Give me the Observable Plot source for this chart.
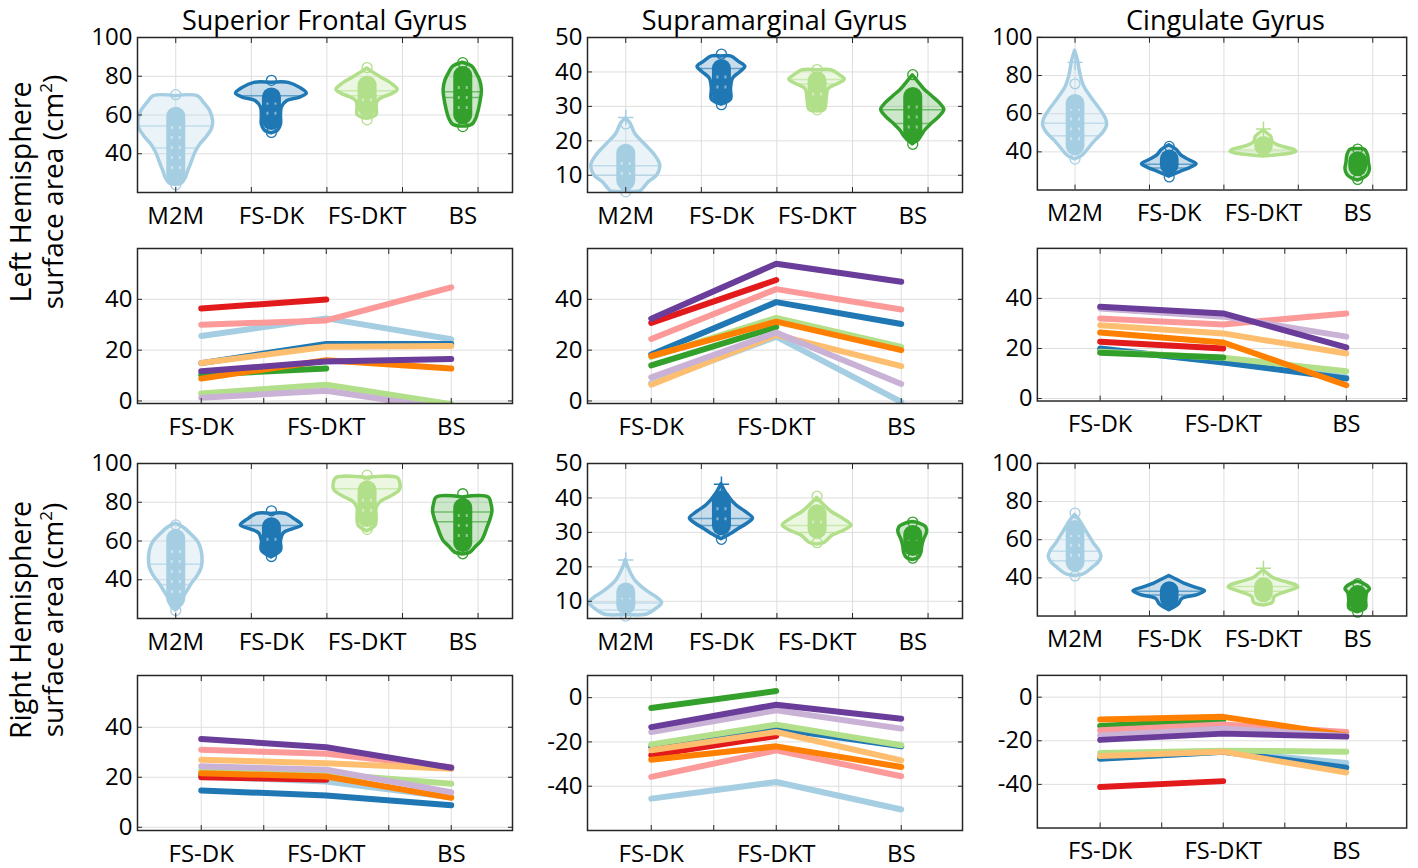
<!DOCTYPE html>
<html><head><meta charset="utf-8">
<script src="https://cdn.jsdelivr.net/npm/d3@7"></script>
<script src="https://cdn.jsdelivr.net/npm/@observablehq/plot@0.6"></script>
<style>
body{margin:0;background:#fff;}
#chart{position:relative;width:1418px;height:868px;overflow:hidden;font-family:"Open Sans",sans-serif;}
.panel{position:absolute;}
.panel svg{overflow:visible;}
</style></head><body><div id="chart"></div>
<script>
// ---------- categories / labels ----------
const regions = ["Superior Frontal Gyrus", "Supramarginal Gyrus", "Cingulate Gyrus"];
const hemispheres = ["Left Hemisphere", "Right Hemisphere"];
const violinCats = ["M2M", "FS-DK", "FS-DKT", "BS"];
const lineCats = ["FS-DK", "FS-DKT", "BS"];
const violinColors = ["#a6cee3", "#1f78b4", "#b2df8a", "#33a02c"];
const subjectColors = ["#a6cee3", "#1f78b4", "#b2df8a", "#33a02c", "#fb9a99", "#e31a1c", "#fdbf6f", "#ff7f00", "#cab2d6", "#6a3d9a"];

// tick values
const violinTicksBig = [40, 60, 80, 100];
const violinTicksSmall = [10, 20, 30, 40, 50];
const lineTicksPos = [0, 20, 40];
const lineTicksNeg = [-40, -20, 0];
const violinGrid = [1, 1.79, 2.58, 3.37, 4.16];
const lineGrid = [1, 1.5, 2, 2.5, 3];

// ---------- violin data: shape profile [value, half width], quartile lines, data range, end circles, "+" outliers ----------
const sfgLeftShape = [
  [[69.7,0],[69.7,0.23],[66,0.3],[62,0.36],[57,0.39],[53,0.38],[49,0.33],[45,0.26],[41,0.21],[36,0.17],[31,0.13],[27,0.1],[24.5,0.06],[24,0]],
  [[76.6,0],[76.6,0.18],[74,0.3],[71,0.37],[69,0.3],[67,0.16],[64,0.11],[60,0.1],[55,0.1],[52,0.07],[50.5,0]],
  [[84,0],[82,0.06],[79,0.16],[76,0.26],[73,0.32],[71,0.27],[69,0.17],[67,0.11],[64,0.1],[60,0.1],[58,0]],
  [[87,0],[85,0.1],[82,0.14],[78,0.18],[73,0.2],[68,0.19],[63,0.17],[58,0.14],[55,0.1],[54,0]]
];
const sfgLeftQuart = [[54.3, 43], [69.9], [72.5, 70], [72, 69]];
const sfgLeftRange = [[24, 64], [52, 74], [59, 80], [55, 85]];
const sfgLeftEnds = [[70.5, 24], [77.9, 51], [84.5, 57.5], [87, 54]];
const sfgLeftPlus = [[], [], [], []];

const smgLeftShape = [
  [[26.5,0],[25,0.05],[22,0.1],[19,0.2],[16,0.3],[13,0.36],[10,0.33],[8,0.24],[6,0.18],[5.3,0.15],[5.3,0]],
  [[44.5,0],[44.5,0.1],[43,0.18],[41.5,0.25],[40,0.2],[38,0.12],[35,0.1],[32,0.1],[30.5,0]],
  [[40.5,0],[40.5,0.15],[39,0.24],[37.8,0.29],[36.5,0.22],[35,0.12],[32,0.1],[29,0.08],[28.5,0]],
  [[39,0],[37,0.06],[35,0.12],[33,0.2],[31,0.28],[29,0.33],[27,0.28],[25,0.2],[23,0.13],[21,0.08],[19,0]]
];
const smgLeftQuart = [[12.8, 10], [41], [37.8, 36.5], [29, 25]];
const smgLeftRange = [[5.5, 19], [30.6, 43.6], [28.6, 40], [19, 35.5]];
const smgLeftEnds = [[24.9, 5.2], [45.2, 30.5], [40.7, 29], [39.2, 19]];
const smgLeftPlus = [[26.8], [], [], []];

const cingLeftShape = [
  [[93,0],[88,0.03],[80,0.06],[74,0.1],[68,0.18],[62,0.27],[57,0.33],[54,0.34],[50,0.3],[46,0.22],[42,0.15],[38,0.08],[36,0]],
  [[43.5,0],[41,0.08],[38,0.13],[35.5,0.22],[33.5,0.29],[31.5,0.22],[29.5,0.12],[27,0]],
  [[51,0],[48,0.08],[45,0.1],[43,0.18],[41,0.33],[40,0.35],[39,0.28],[38,0.1],[37.5,0]],
  [[41.5,0],[41,0.08],[38,0.11],[34,0.12],[31,0.13],[28,0.11],[26,0.06],[25,0]]
];
const cingLeftQuart = [[55, 48.5], [33.5, 31.5], [41], []];
const cingLeftRange = [[38, 70], [28, 41], [38, 48], [27, 40]];
const cingLeftEnds = [[75.7, 36.2], [42.9, 26.8], [], [41.5, 25.5]];
const cingLeftPlus = [[86.9], [], [52], []];

const sfgRightShape = [
  [[69,0],[67,0.08],[63,0.17],[59,0.24],[55,0.27],[50,0.28],[46,0.27],[42,0.23],[38,0.17],[34,0.12],[30,0.07],[26,0.04],[24,0]],
  [[74,0],[74,0.15],[71,0.25],[68,0.32],[66,0.22],[64,0.13],[60,0.1],[55,0.1],[51.5,0]],
  [[92.5,0],[92.5,0.32],[89,0.35],[86,0.34],[83,0.25],[80,0.14],[77,0.1],[72,0.1],[68,0.09],[65,0]],
  [[82.5,0],[82.5,0.27],[79,0.3],[75,0.31],[71,0.29],[67,0.26],[63,0.23],[60,0.2],[57,0.14],[54,0.08],[53,0]]
];
const sfgRightQuart = [[48, 37.5], [68], [87], [75, 70]];
const sfgRightRange = [[25, 66], [52, 72], [67, 91], [54, 82]];
const sfgRightEnds = [[68.3, 24.1], [75.6, 52], [94, 66], [84.4, 53.4]];
const sfgRightPlus = [[], [], [], []];

const smgRightShape = [
  [[22,0],[19,0.04],[16,0.1],[13,0.22],[11,0.33],[9.5,0.38],[8,0.33],[6.5,0.25],[6,0.2],[6,0]],
  [[44,0],[41,0.06],[38,0.15],[36,0.25],[34,0.33],[32.5,0.27],[31,0.18],[29.5,0.1],[28,0]],
  [[40,0],[38,0.07],[36,0.15],[34,0.27],[32,0.36],[30.5,0.28],[29,0.16],[27,0.08],[26.5,0]],
  [[33,0],[32.5,0.08],[31.5,0.14],[30,0.15],[28,0.12],[26,0.1],[24,0.09],[22.5,0.06],[22,0]]
];
const smgRightQuart = [[9.5, 7.5], [34, 32], [32, 30], []];
const smgRightRange = [[6, 15.3], [29, 42], [28, 38], [23, 32]];
const smgRightEnds = [[5.7], [28], [40.5, 27], [33, 22.5]];
const smgRightPlus = [[22], [44], [], []];

const cingRightShape = [
  [[73,0],[70,0.05],[66,0.1],[62,0.15],[58,0.2],[54,0.26],[51,0.28],[48,0.25],[45,0.18],[42,0.1],[41,0]],
  [[41,0],[39,0.08],[37,0.16],[35,0.27],[33,0.38],[31,0.3],[29,0.14],[26,0.1],[23,0]],
  [[44,0],[42,0.05],[40,0.1],[38,0.22],[36,0.35],[35,0.37],[33,0.27],[30,0.12],[27,0.1],[25.5,0]],
  [[38,0],[37,0.06],[35,0.12],[34,0.13],[32,0.1],[28,0.09],[24,0.09],[22,0]]
];
const cingRightQuart = [[54, 49], [33, 31], [35.5, 33], []];
const cingRightRange = [[43, 70], [24, 38], [27, 40], [22.5, 36]];
const cingRightEnds = [[74, 41], [], [], [37, 22]];
const cingRightPlus = [[], [], [45], []];

// ---------- line data: one row per subject (Paired colour order), values at FS-DK, FS-DKT, BS ----------
const sfgLeftLines = [
  [25.6, 32.5, 24.3], [14.9, 22.4, 22.4], [2.9, 6.4, -1.3], [10.3, 12.8, null], [30, 31.7, 44.7],
  [36.4, 39.9, null], [14.9, 21.3, 21.6], [8.8, 16, 12.8], [1.3, 4, -3.3], [11.7, 15.5, 16.5]
];
const smgLeftLines = [
  [7, 25.3, -0.4], [18.3, 38.9, 30.3], [17.3, 32.7, 21.3], [14, 29.1, null], [24.4, 44, 36],
  [30.7, 47.6, null], [6.4, 26, 13.7], [17.7, 31.2, 20], [9.3, 26.9, 6.7], [32.4, 54, 46.9]
];
const cingLeftLines = [
  [19.5, 14.8, 8.5], [20, 14.4, 8], [18.7, 16.3, 10.9], [18.3, 16.4, null], [32, 29.6, 34],
  [22.7, 20, null], [29.3, 26, 18], [26.4, 22.4, 5.3], [36, 32.7, 24.7], [36.7, 34, 20.4]
];
const sfgRightLines = [
  [20.3, 18.3, 12], [14.7, 12.7, 8.8], [22.7, 21.4, 17.4], [21, 20, null], [31, 29.4, 24],
  [20, 19, null], [27, 25.6, 23.4], [21.6, 20.3, 11.8], [24.4, 23, 14], [35.3, 32, 23.8]
];
const smgRightLines = [
  [-45.6, -38.1, -50.5], [-22.3, -14, -22], [-21.1, -12.2, -21.5], [-4.7, 3, null], [-35.8, -23.8, -35.5],
  [-26, -17.3, null], [-23.8, -15.5, -28.3], [-28, -22, -31.3], [-15.5, -5.7, -14], [-13.3, -3.2, -9.5]
];
const cingRightLines = [
  [-28, -25, -30.2], [-28.3, -25, -32.3], [-25.6, -24.5, -25], [-13.2, -10.5, null], [-15.2, -12.5, -16],
  [-41.2, -38.5, null], [-27, -25, -34.6], [-10.2, -9, -17.5], [-17.5, -14.4, -17.8], [-19.6, -16.7, -18.1]
];

// ---------- layout ----------
const W = 375, H = 155, ML = 75, MR = 12, MT = 8, MB = 45;
const colX = [137, 587, 1038];
const rowY = [37, 248, 463, 675];
const axisColor = "#262626", gridColor = "#dedede", FS = 24;
const BAR_W = 19;
const chart = document.getElementById("chart");

function place(svg, left, top) {
  const d = document.createElement("div");
  d.className = "panel";
  d.style.left = (left - ML) + "px";
  d.style.top = (top - MT) + "px";
  d.appendChild(svg);
  chart.appendChild(d);
}

function hwAt(profile, y) {
  let best = 0;
  for (let k = 0; k < profile.length - 1; k++) {
    const [ya, wa] = profile[k], [yb, wb] = profile[k + 1];
    const lo = Math.min(ya, yb), hi = Math.max(ya, yb);
    if (y >= lo && y <= hi) {
      const w = ya === yb ? Math.max(wa, wb) : wa + (wb - wa) * (y - ya) / (yb - ya);
      best = Math.max(best, w);
    }
  }
  return best;
}

function gridMarks(xGrid, yTicks) {
  return [
    Plot.gridX({ticks: xGrid, stroke: gridColor, strokeOpacity: 1, strokeWidth: 1}),
    Plot.gridY({ticks: yTicks, stroke: gridColor, strokeOpacity: 1, strokeWidth: 1})
  ];
}
function axisMarks(xGrid, yTicks, xTicks, xFormat) {
  const empty = () => "";
  return [
    Plot.frame({stroke: axisColor, strokeWidth: 1.5}),
    Plot.axisX({ticks: xGrid, anchor: "top", tickSize: 5, dy: 5, tickFormat: empty, label: null, stroke: axisColor}),
    Plot.axisX({ticks: xGrid, anchor: "bottom", tickSize: 5, dy: -5, tickFormat: empty, label: null, stroke: axisColor}),
    Plot.axisY({ticks: yTicks, anchor: "left", tickSize: 5, dx: 5, tickFormat: empty, label: null, stroke: axisColor}),
    Plot.axisY({ticks: yTicks, anchor: "right", tickSize: 5, dx: -5, tickFormat: empty, label: null, stroke: axisColor}),
    Plot.axisX({ticks: xTicks, anchor: "bottom", tickSize: 0, tickPadding: 14, tickFormat: xFormat, label: null, fontSize: FS, fill: "#000"}),
    Plot.axisY({ticks: yTicks, anchor: "left", tickSize: 0, tickPadding: 5, tickFormat: d => String(d), label: null, fontSize: FS, fill: "#000"})
  ];
}

function plotBase(xDomain, yDomain, marks) {
  return Plot.plot({
    width: W + ML + MR, height: H + MT + MB,
    marginLeft: ML, marginRight: MR, marginTop: MT, marginBottom: MB,
    x: {domain: xDomain}, y: {domain: yDomain},
    style: {fontFamily: "'Open Sans', sans-serif", fontSize: FS + "px", color: "#000", background: "transparent"},
    marks
  });
}

function violinPanel(shape, quart, range, ends, plus, yDomain, yTicks) {
  const k = (yDomain[1] - yDomain[0]) / H; // data units per pixel
  const cap = (BAR_W / 2) * k;
  const areaData = shape.flatMap((prof, i) => prof.map(([y, w]) => ({cat: i, y, x1: i + 1 - w, x2: i + 1 + w})));
  const qData = quart.flatMap((qs, i) => qs.map(y => { const w = hwAt(shape[i], y); return {cat: i, y, x1: i + 1 - w, x2: i + 1 + w}; }));
  const barData = range.map(([lo, hi], i) => ({cat: i, x: i + 1, lo: Math.min(lo + cap, (lo + hi) / 2), hi: Math.max(hi - cap, (lo + hi) / 2)}));
  const texData = range.map(([lo, hi], i) => ({cat: i, x: i + 1, lo: lo + 1.6 * cap, hi: hi - 1.6 * cap})).filter(d => d.hi > d.lo);
  const endData = ends.flatMap((ys, i) => ys.map(y => ({cat: i, x: i + 1, y})));
  const plusData = plus.flatMap((ys, i) => ys.map(y => ({cat: i, x: i + 1, y})));
  const col = d => violinColors[d.cat];
  return plotBase([0.6, 4.52], yDomain, [
    ...gridMarks(violinGrid, yTicks),
    Plot.areaX(areaData, {y: "y", x1: "x1", x2: "x2", z: "cat", fill: col, fillOpacity: 0.25, stroke: col, strokeWidth: 3.5, curve: "catmull-rom", clip: true}),
    Plot.ruleY(qData, {y: "y", x1: "x1", x2: "x2", stroke: col, strokeWidth: 1.5, strokeOpacity: 0.6}),
    Plot.ruleX(barData, {x: "x", y1: "lo", y2: "hi", stroke: col, strokeWidth: BAR_W, strokeLinecap: "round"}),
    Plot.ruleX(texData, {x: "x", y1: "lo", y2: "hi", stroke: "#fff", strokeWidth: 2, strokeOpacity: 0.45, strokeDasharray: "3,7", dx: -4}),
    Plot.ruleX(texData, {x: "x", y1: "lo", y2: "hi", stroke: "#fff", strokeWidth: 2, strokeOpacity: 0.45, strokeDasharray: "3,7", dx: 4}),
    Plot.dot(endData, {x: "x", y: "y", r: 5, stroke: col, fill: "none", strokeWidth: 1.3}),
    Plot.dot(plusData, {x: "x", y: "y", r: 5, symbol: "plus", stroke: col, strokeWidth: 1.5}),
    ...axisMarks(violinGrid, yTicks, [1, 2, 3, 4], i => violinCats[i - 1])
  ]);
}

function linePanel(lines, yDomain, yTicks) {
  const data = lines.flatMap((vals, s) => vals.map((v, j) => ({s, x: j + 1, y: v == null ? NaN : v})));
  return plotBase([0.49, 3.49], yDomain, [
    ...gridMarks(lineGrid, yTicks),
    Plot.line(data, {x: "x", y: "y", z: "s", stroke: d => subjectColors[d.s], strokeWidth: 6, strokeLinejoin: "round", clip: true}),
    ...axisMarks(lineGrid, yTicks, [1, 2, 3], i => lineCats[i - 1])
  ]);
}

// row 1: left violins; row 2: left lines; row 3: right violins; row 4: right lines
place(violinPanel(sfgLeftShape, sfgLeftQuart, sfgLeftRange, sfgLeftEnds, sfgLeftPlus, [20, 100], violinTicksBig), colX[0], rowY[0]);
place(violinPanel(smgLeftShape, smgLeftQuart, smgLeftRange, smgLeftEnds, smgLeftPlus, [5, 50], violinTicksSmall), colX[1], rowY[0]);
place(violinPanel(cingLeftShape, cingLeftQuart, cingLeftRange, cingLeftEnds, cingLeftPlus, [20, 100], violinTicksBig), colX[2], rowY[0]);

place(linePanel(sfgLeftLines, [-1, 60], lineTicksPos), colX[0], rowY[1]);
place(linePanel(smgLeftLines, [-1, 60], lineTicksPos), colX[1], rowY[1]);
place(linePanel(cingLeftLines, [-1, 60], lineTicksPos), colX[2], rowY[1]);

place(violinPanel(sfgRightShape, sfgRightQuart, sfgRightRange, sfgRightEnds, sfgRightPlus, [20, 100], violinTicksBig), colX[0], rowY[2]);
place(violinPanel(smgRightShape, smgRightQuart, smgRightRange, smgRightEnds, smgRightPlus, [5, 50], violinTicksSmall), colX[1], rowY[2]);
place(violinPanel(cingRightShape, cingRightQuart, cingRightRange, cingRightEnds, cingRightPlus, [20, 100], violinTicksBig), colX[2], rowY[2]);

place(linePanel(sfgRightLines, [-1.3, 60.7], lineTicksPos), colX[0], rowY[3]);
place(linePanel(smgRightLines, [-60, 10], lineTicksNeg), colX[1], rowY[3]);
place(linePanel(cingRightLines, [-60, 10], lineTicksNeg), colX[2], rowY[3]);

// ---------- titles and side labels ----------
const overlay = d3.select(chart).append("svg")
  .attr("width", 1418).attr("height", 868)
  .style("position", "absolute").style("left", 0).style("top", 0).style("pointer-events", "none")
  .style("font-family", "'Open Sans', sans-serif");
regions.forEach((r, i) => {
  overlay.append("text").attr("x", colX[i] + W / 2).attr("y", 29.5)
    .attr("text-anchor", "middle").attr("font-size", 27).attr("fill", "#000").text(r);
});
const sideCenters = [192, 620];
hemispheres.forEach((h, i) => {
  const cy = sideCenters[i];
  overlay.append("text").attr("transform", `translate(31,${cy}) rotate(-90)`)
    .attr("text-anchor", "middle").attr("font-size", 28.5).attr("fill", "#000").text(h);
  const t = overlay.append("text").attr("transform", `translate(63,${cy}) rotate(-90)`)
    .attr("text-anchor", "middle").attr("font-size", 28).attr("fill", "#000");
  t.append("tspan").text("surface area (cm");
  t.append("tspan").attr("font-size", 17).attr("dy", -11).text("2");
  t.append("tspan").attr("dy", 11).text(")");
});
</script></body></html>
